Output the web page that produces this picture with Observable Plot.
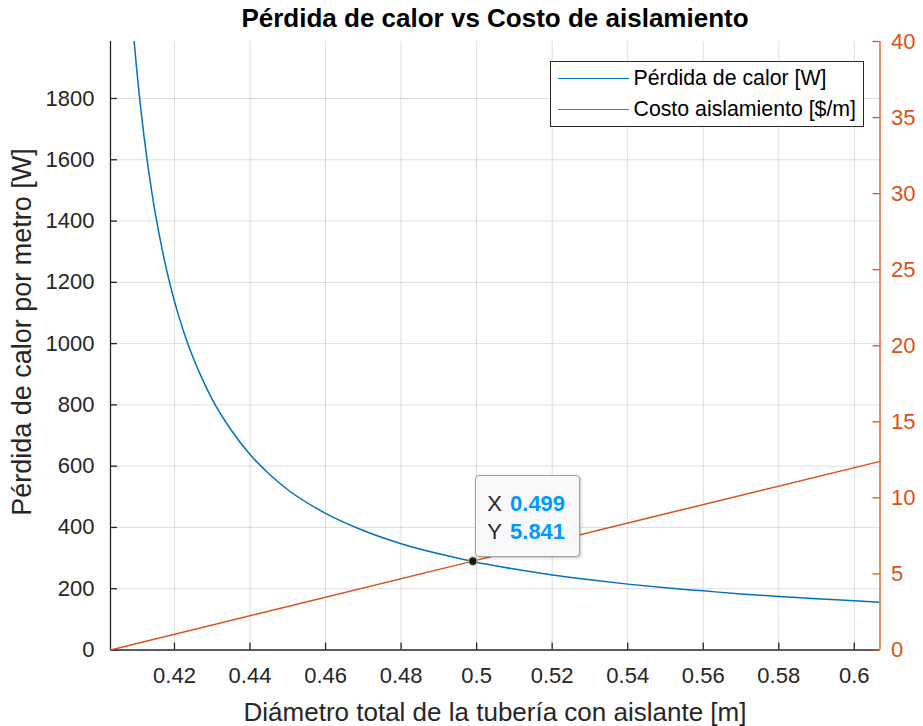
<!DOCTYPE html>
<html>
<head>
<meta charset="utf-8">
<script src="https://cdn.jsdelivr.net/npm/d3@7"></script>
<script src="https://cdn.jsdelivr.net/npm/@observablehq/plot@0.6"></script>
<style>
  html, body { margin: 0; padding: 0; background: #fff; }
  #wrap { position: relative; width: 923px; height: 726px; font-family: "Liberation Sans", Arial, Helvetica, sans-serif; color: #262626; overflow: hidden; }
  #wrap svg { position: absolute; left: 0; top: 0; }
  .title { position: absolute; left: 110px; width: 770px; top: 4px; text-align: center; font-weight: bold; font-size: 26px; line-height: 28px; color: #000; }
  .xlabel { position: absolute; left: 110px; width: 770px; top: 698px; text-align: center; font-size: 26px; line-height: 28px; }
  .ylabel { position: absolute; left: 22px; top: 332px; transform: translate(-50%, -50%) rotate(-90deg); white-space: nowrap; font-size: 27px; line-height: 28px; }
  .legend { position: absolute; left: 549.5px; top: 60.5px; width: 312px; height: 64px; border: 1px solid #262626; background: #fff; }
  .legend .row { position: absolute; left: 0; height: 30px; width: 100%; }
  .legend .sw { position: absolute; left: 7px; top: 14px; width: 71px; height: 1.6px; }
  .legend .lt { position: absolute; left: 83px; top: 2px; font-size: 21.3px; line-height: 24px; white-space: nowrap; color: #000; }
  .tip { position: absolute; width: 103px; height: 80px; border: 1.5px solid #a0a0a0; border-radius: 4px; background: #f9f9fb; box-shadow: 1px 1px 3px rgba(0,0,0,0.25); font-size: 22px; line-height: 28px; }
  .tip .r { position: absolute; left: 11px; white-space: nowrap; color: #262626; }
  .tip b { color: #0099ff; margin-left: 8px; }
</style>
</head>
<body>
<div id="wrap"></div>
<script>
// ---- data ----
const xDomain = [0.40306, 0.6068];
const lossDomain = [0, 1986];
const costDomain = [0, 40];
const xTicks = [0.42, 0.44, 0.46, 0.48, 0.5, 0.52, 0.54, 0.56, 0.58, 0.6];
const lossTicks = [0, 200, 400, 600, 800, 1000, 1200, 1400, 1600, 1800];
const costTicks = [0, 5, 10, 15, 20, 25, 30, 35, 40];

// Heat loss curve (blue, left axis)
const lossDiam = [0.4090, 0.4100, 0.4110, 0.4120, 0.4130, 0.4140, 0.4150, 0.4160, 0.4170, 0.4180, 0.4190, 0.4200,
  0.4215, 0.4230, 0.4250, 0.4275, 0.4300, 0.4350, 0.4400, 0.4450, 0.4500, 0.4600, 0.4700, 0.4800, 0.4900, 0.4990,
  0.5100, 0.5200, 0.5300, 0.5400, 0.5500, 0.5600, 0.5700, 0.5800, 0.5900, 0.6000, 0.6068];
const lossW = [2029, 1894, 1775, 1670, 1577, 1494, 1419, 1353, 1292, 1236, 1185, 1138,
  1075, 1018, 952, 881, 818, 718, 638, 575, 523, 446, 390, 347, 314, 289,
  264, 245, 229, 215, 203, 193, 183, 175, 167, 161, 156];

// Insulation cost (orange, right axis)
const costDiam = [0.40306, 0.45, 0.499, 0.55, 0.6068];
const costVal = [0, 2.86, 5.841, 8.95, 12.40];

// Data tip
const tipX = [0.499];
const tipY = [5.841];

// Legend
const legendSeries = ["Pérdida de calor [W]", "Costo aislamiento [$/m]"];

const blue = "#0072BD", orange = "#D95319", ink = "#262626";
const W = 923, H = 726, mL = 110, mR = 43.5, mT = 41, mB = 76.5;
const plotW = W - mL - mR, plotH = H - mT - mB;
const fontFamily = '"Liberation Sans", Arial, Helvetica, sans-serif';
const common = {
  width: W, height: H, marginLeft: mL, marginRight: mR, marginTop: mT, marginBottom: mB,
  style: { fontFamily, background: "transparent", overflow: "visible", color: ink }
};

const lossData = lossDiam.map((d, i) => ({d, q: lossW[i]}));
const costData = costDiam.map((d, i) => ({d, c: costVal[i]}));
const tipData = tipX.map((x, i) => ({x, y: tipY[i]}));

const fmtX = d => String(+d.toFixed(2));
const fmtY = d => String(d);

const p1 = Plot.plot({
  ...common,
  x: {domain: xDomain, label: null},
  y: {domain: lossDomain, label: null},
  marks: [
    Plot.gridX(xTicks, {stroke: ink, strokeOpacity: 0.15, strokeWidth: 1}),
    Plot.gridY(lossTicks.slice(1), {stroke: ink, strokeOpacity: 0.15, strokeWidth: 1}),
    Plot.line(lossData, {x: "d", y: "q", stroke: blue, strokeWidth: 1.5, clip: true, curve: "monotone-x"}),
    Plot.ruleX([xDomain[0]], {stroke: ink, strokeWidth: 1.3}),
    Plot.ruleY([lossDomain[0]], {stroke: ink, strokeWidth: 1.3}),
    Plot.tickX(xTicks, {x: d => d, insetTop: plotH - 7, stroke: ink, strokeWidth: 1.3}),
    Plot.tickY(lossTicks, {y: d => d, insetRight: plotW - 7, stroke: ink, strokeWidth: 1.3}),
    Plot.axisX(xTicks, {tickSize: 0, tickPadding: 17, fontSize: 22, tickFormat: fmtX, color: ink, label: null}),
    Plot.axisY(lossTicks, {tickSize: 0, tickPadding: 16, fontSize: 22, tickFormat: fmtY, color: ink, label: null})
  ]
});

const p2 = Plot.plot({
  ...common,
  x: {domain: xDomain, axis: null},
  y: {domain: costDomain, axis: null},
  marks: [
    Plot.line(costData, {x: "d", y: "c", stroke: orange, strokeWidth: 1.5}),
    Plot.ruleX([xDomain[1]], {stroke: orange, strokeWidth: 1.3}),
    Plot.tickY(costTicks, {y: d => d, insetLeft: plotW - 7, stroke: orange, strokeWidth: 1.3}),
    Plot.axisY(costTicks, {anchor: "right", tickSize: 0, tickPadding: 11, fontSize: 22, tickFormat: fmtY, color: orange, label: null}),
    Plot.dot(tipData, {x: "x", y: "y", r: 4.2, fill: "#1a1a1a", stroke: "#b8b070", strokeWidth: 1.2})
  ]
});

const wrap = document.getElementById("wrap");
wrap.appendChild(p1);
wrap.appendChild(p2);

function addDiv(cls, html, styles) {
  const el = document.createElement("div");
  el.className = cls;
  el.innerHTML = html;
  if (styles) Object.assign(el.style, styles);
  wrap.appendChild(el);
  return el;
}

addDiv("title", "Pérdida de calor vs Costo de aislamiento");
addDiv("xlabel", "Diámetro total de la tubería con aislante [m]");
addDiv("ylabel", "Pérdida de calor por metro [W]");

const legendColors = [blue, orange];
const leg = addDiv("legend", "");
legendSeries.forEach((name, i) => {
  const row = document.createElement("div");
  row.className = "row";
  row.style.top = (2 + i * 31) + "px";
  const sw = document.createElement("div");
  sw.className = "sw";
  sw.style.background = legendColors[i];
  const lt = document.createElement("div");
  lt.className = "lt";
  lt.textContent = name;
  row.appendChild(sw);
  row.appendChild(lt);
  leg.appendChild(row);
});

// data tip placed from the plot's own scales
const px = p2.scale("x").apply(tipX[0]);
const py = p2.scale("y").apply(tipY[0]);
addDiv("tip", `<div class="r" style="top:14px">X<b>${tipX[0].toFixed(3)}</b></div><div class="r" style="top:42px">Y<b>${tipY[0].toFixed(3)}</b></div>`,
  {left: (px + 3) + "px", top: (py - 86) + "px"});
</script>
</body>
</html>
